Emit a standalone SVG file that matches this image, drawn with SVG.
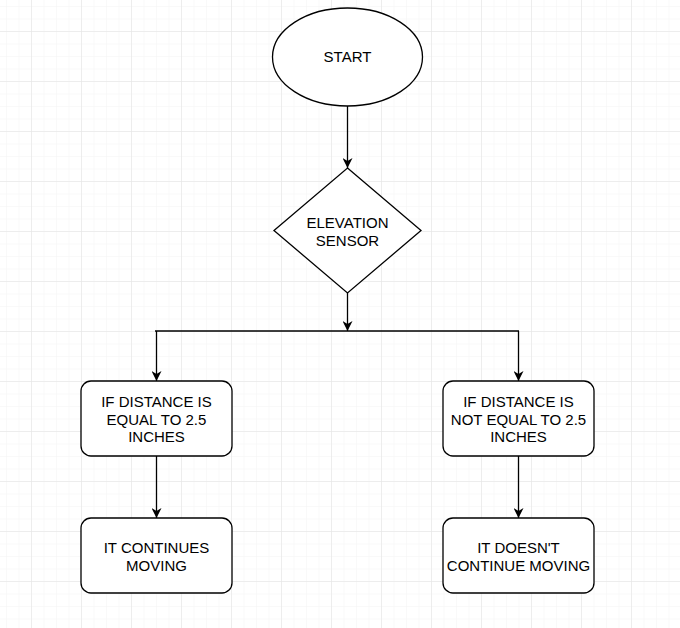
<svg xmlns="http://www.w3.org/2000/svg" width="680" height="628" viewBox="0 0 680 628">
<defs>
<pattern id="minor" x="6" y="6" width="12.5" height="12.5" patternUnits="userSpaceOnUse">
<path d="M0,0 H12.5 M0,0 V12.5" fill="none" stroke="#f3f3f3" stroke-width="1"/>
</pattern>
<pattern id="major" x="31" y="31" width="50" height="50" patternUnits="userSpaceOnUse">
<path d="M0,0 H50 M0,0 V50" fill="none" stroke="#e2e2e2" stroke-width="1"/>
</pattern>
<marker id="arr" viewBox="0 0 10 10" refX="10" refY="5" markerWidth="10" markerHeight="10" markerUnits="userSpaceOnUse" orient="auto">
<path d="M0,0 L10,5 L0,10 L3,5 z" fill="#000"/>
</marker>
</defs>
<style>
.shape{fill:#fff;stroke:#000;stroke-width:1.3}
.lbl{font-family:"Liberation Sans",Arial,sans-serif;font-size:15px;fill:#000;text-anchor:middle}
.edge{fill:none;stroke:#000;stroke-width:1.3}
</style>
<rect width="680" height="628" fill="#fff"/>
<rect width="680" height="628" fill="url(#minor)"/>
<rect width="680" height="628" fill="url(#major)"/>
<g id="connectors">
<path class="edge" d="M347.5,106 V168" marker-end="url(#arr)"/>
<path class="edge" d="M347.5,293 V331" marker-end="url(#arr)"/>
<path class="edge" d="M155,331 H519"/>
<path class="edge" d="M156.5,331 V381" marker-end="url(#arr)"/>
<path class="edge" d="M518.5,331 V381" marker-end="url(#arr)"/>
<path class="edge" d="M156.5,456 V518" marker-end="url(#arr)"/>
<path class="edge" d="M518.5,456 V518" marker-end="url(#arr)"/>
</g>
<g id="start">
<ellipse class="shape" cx="347.5" cy="57" rx="75" ry="49"/>
<text class="lbl" x="347.5" y="62">START</text>
</g>
<g id="sensor">
<path class="shape" d="M347.5,168 L421,230.5 L347.5,293 L274,230.5 Z"/>
<text class="lbl" x="347.5" y="228">ELEVATION</text>
<text class="lbl" x="347.5" y="245.5">SENSOR</text>
</g>
<g id="equal">
<rect class="shape" x="81" y="381" width="151" height="75" rx="10"/>
<text class="lbl" x="156.5" y="407">IF DISTANCE IS</text>
<text class="lbl" x="156.5" y="424.5">EQUAL TO 2.5</text>
<text class="lbl" x="156.5" y="442">INCHES</text>
</g>
<g id="notequal">
<rect class="shape" x="443" y="381" width="151" height="75" rx="10"/>
<text class="lbl" x="518.5" y="407">IF DISTANCE IS</text>
<text class="lbl" x="518.5" y="424.5">NOT EQUAL TO 2.5</text>
<text class="lbl" x="518.5" y="442">INCHES</text>
</g>
<g id="continues">
<rect class="shape" x="81" y="518" width="151" height="75" rx="10"/>
<text class="lbl" x="156.5" y="553">IT CONTINUES</text>
<text class="lbl" x="156.5" y="570.5">MOVING</text>
</g>
<g id="stops">
<rect class="shape" x="443" y="518" width="151" height="75" rx="10"/>
<text class="lbl" x="518.5" y="553">IT DOESN'T</text>
<text class="lbl" x="518.5" y="570.5">CONTINUE MOVING</text>
</g>
</svg>
